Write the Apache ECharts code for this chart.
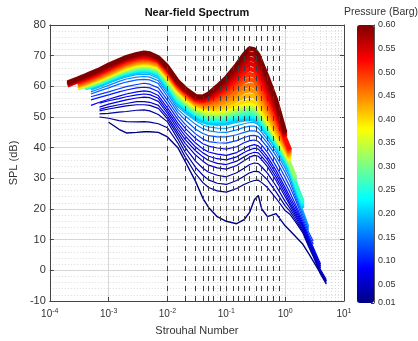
<!DOCTYPE html>
<html>
<head>
<meta charset="utf-8">
<script src="https://cdn.jsdelivr.net/npm/echarts@6/dist/echarts.min.js"></script>
<style>
    html, body { margin: 0; padding: 0; background: #fff; }
    #chart { width: 418px; height: 341px; }
</style>
</head>
<body>
<div id="chart"></div>
<script>
    const _ = null

    // Strouhal number grid shared by all curves
    const stGrid = [2e-4, 3e-4, 4e-4, 5e-4, 7e-4, 1e-3, 1.5e-3, 2e-3, 3e-3, 4e-3, 5e-3, 7e-3,
        0.01, 0.015, 0.02, 0.03, 0.04, 0.05, 0.07, 0.1, 0.15, 0.2, 0.25, 0.3, 0.35, 0.4, 0.5, 0.7,
        1, 1.2, 1.5, 2, 2.5, 3, 4, 5]

    // pressure of each curve (Barg), low first so the red ones end up on top
    const pressures = [0.01, 0.02, 0.03, 0.04, 0.05, 0.06, 0.07, 0.08, 0.10, 0.12, 0.14, 0.16, 0.18,
        0.20, 0.22, 0.24, 0.26, 0.28, 0.30, 0.32, 0.34, 0.36, 0.38, 0.40,
        0.42, 0.44, 0.46, 0.48, 0.50, 0.52, 0.54, 0.56, 0.58, 0.60]

    // SPL (dB) of each curve on stGrid, same order as pressures
    const splCurves = [
        [_, _, _, _, _, 48.3, 46, 44.8, 45, 45.2, 45.2, 45, 43.5, 40, 35.5, 29, 23.5, 20.5, 17.5, 16, 15.2, 16.5, 19, 23, 24.4, 20, 17.5, 18.5, 14.5, 13, 11, 8.5, 5.5, 3, -1, -3.5],
        [_, _, _, _, 50, 49.6, 48.8, 48.5, 48.4, 48.5, 48.3, 47.8, 46.5, 41.5, 37, 31.5, 28.6, 27, 25.9, 25.5, 26.7, 28, 28.8, 29.3, 29.4, 28.6, 27, 23.5, 19.5, 18.3, 15.8, 12.2, 7.8, 4.5, -1.3, -4.5],
        [_, _, _, _, 51, 51.2, 51.6, 51.8, 52.2, 52.3, 52, 50.8, 48.4, 42.8, 38.5, 33.6, 31, 29.5, 28.4, 28, 29.3, 30.7, 31.8, 32.3, 32.2, 31.3, 29.5, 25.6, 21, 19.3, 16.5, 12.7, 8.3, 5, -0.8, -4],
        [_, _, _, _, 52, 52.6, 53.2, 53.6, 54, 54, 53.8, 52.8, 49.4, 44, 40, 35.6, 33.3, 32, 31, 30.5, 31.8, 33.3, 34.5, 35, 34.8, 33.7, 31.7, 27.5, 22.5, 20.3, 17.3, 13.2, 8.8, 5.5, -0.3, -3.5],
        [_, _, _, _, 52.5, 53.3, 54, 54.4, 55, 55, 54.8, 53.8, 50.2, 45, 41.4, 37.6, 35.6, 34.3, 33.4, 33, 34.2, 35.7, 36.9, 37.5, 37.2, 36, 33.8, 29.3, 24, 21.3, 18, 13.8, 9.3, 6, 0.2, -3],
        [_, _, _, _, 53.2, 54.2, 55, 55.6, 56.2, 56.5, 56.3, 55.1, 51.2, 46, 42.6, 39, 37, 35.8, 34.9, 34.5, 35.6, 37, 38, 38.5, 38.3, 37.1, 34.9, 30.4, 25, 22, 18.8, 14.3, 9.8, 6.5, 0.8, _],
        [_, _, _, _, 54.5, 55.3, 56, 56.6, 57.2, 57.5, 57.3, 56.1, 52, 47, 43.8, 40.2, 38.3, 37.2, 36.4, 36, 37, 38.4, 39.3, 39.8, 39.5, 38.3, 36, 31.5, 26, 23, 19.5, 14.8, 10.3, 7, 1.3, _],
        [_, _, _, 53.8, 54.8, 55.8, 56.8, 57.5, 58.2, 58.5, 58.3, 57, 53, 48, 45, 41.5, 39.6, 38.6, 37.9, 37.5, 38.4, 39.7, 40.6, 41, 40.6, 39.4, 37.1, 32.6, 27, 24, 20.5, 15.3, 10.8, 7.5, 2, _],
        [_, _, _, 55.6, 56.4, 57.2, 58.2, 58.8, 59.5, 59.7, 59.5, 58.3, 54.2, 49.2, 46.3, 43, 41.3, 40.5, 39.9, 39.5, 40.3, 41.6, 42.3, 42.5, 42, 40.8, 38.5, 34, 28.5, 25.5, 21.5, 16, 11.5, 8.5, _, _],
        [_, _, _, 56.6, 57.4, 58.2, 59.2, 59.9, 60.6, 61, 60.7, 59.5, 55.4, 50.4, 47.6, 44.5, 42.8, 42, 41.6, 41.5, 42.3, 43.3, 43.9, 44, 43.6, 42.4, 40.1, 35.8, 30.3, 27.3, 23, 17, 12.5, 9.5, _, _],
        [_, _, _, 57.5, 58.5, 59.5, 60.7, 61.4, 62.1, 62.3, 62.1, 60.9, 56.6, 51.5, 49, 46, 44.6, 43.9, 43.5, 43.5, 44.2, 45, 45.5, 45.5, 45, 43.8, 41.5, 37.3, 32, 29, 24, 18, 13.3, _, _, _],
        [_, _, _, 58.2, 59.2, 60.3, 61.6, 62.4, 63, 63.2, 63, 61.8, 57.6, 52.5, 50.3, 47.6, 46.2, 45.5, 45.1, 45, 45.8, 46.6, 47, 47, 46.3, 45, 42.6, 38.5, 33.3, 30.3, 25, 18.8, 14, _, _, _],
        [_, _, _, 58.8, 59.8, 61, 62.3, 63.1, 63.8, 64, 63.8, 62.6, 58.4, 53.3, 51.3, 48.8, 47.4, 46.8, 46.4, 46.3, 47.2, 47.8, 48.2, 48.2, 47.4, 46, 43.6, 39.5, 34.3, 31.3, 26, 19.5, 14.5, _, _, _],
        [_, _, _, 59.3, 60.3, 61.5, 62.9, 63.7, 64.5, 64.8, 64.6, 63.5, 59.3, 54.2, 52.2, 49.6, 48.4, 47.9, 47.6, 47.8, 48.6, 49.0, 49.2, 48.9, 48.1, 46.7, 44.3, 40.3, 35.3, 32.3, 26.8, 20.3, _, _, _, _],
        [_, _, 59.3, 59.8, 60.8, 62, 63.4, 64.2, 65, 65.2, 65, 64, 60, 55, 53, 50.5, 49.3, 48.7, 48.5, 48.8, 49.6, 50, 50.2, 49.8, 49, 47.5, 45, 41, 36, 33, 27.5, 21, _, _, _, _],
        [_, _, 59.4, 60.0, 61.0, 62.2, 63.6, 64.4, 65.2, 65.5, 65.3, 64.3, 60.4, 55.4, 53.4, 50.9, 49.7, 49.1, 48.9, 49.3, 50.1, 50.6, 50.8, 50.4, 49.6, 48.1, 45.5, 41.4, 36.4, 33.4, 28.1, 21.8, _, _, _, _],
        [_, _, 59.6, 60.1, 61.2, 62.4, 63.8, 64.7, 65.5, 65.7, 65.5, 64.6, 60.7, 55.8, 53.8, 51.2, 50.1, 49.6, 49.4, 49.7, 50.6, 51.1, 51.3, 51.0, 50.1, 48.6, 46.0, 41.8, 36.8, 33.8, 28.7, 22.5, _, _, _, _],
        [_, _, 59.7, 60.3, 61.3, 62.6, 64.0, 64.9, 65.7, 66.0, 65.8, 64.9, 61.1, 56.3, 54.2, 51.6, 50.5, 50.0, 49.8, 50.2, 51.1, 51.7, 51.9, 51.5, 50.7, 49.2, 46.5, 42.2, 37.2, 34.2, 29.3, _, _, _, _, _],
        [_, 59.3, 59.9, 60.5, 61.5, 62.8, 64.2, 65.1, 66.0, 66.2, 66.1, 65.2, 61.4, 56.7, 54.6, 52.0, 50.9, 50.4, 50.2, 50.7, 51.6, 52.2, 52.5, 52.1, 51.2, 49.7, 47.0, 42.6, 37.6, 34.6, 30.0, _, _, _, _, _],
        [_, 59.4, 60.0, 60.6, 61.7, 62.9, 64.4, 65.3, 66.2, 66.5, 66.3, 65.4, 61.8, 57.1, 54.9, 52.3, 51.4, 50.9, 50.7, 51.1, 52.2, 52.8, 53.0, 52.7, 51.8, 50.3, 47.5, 42.9, 37.9, 34.9, 30.5, _, _, _, _, _],
        [_, 59.5, 60.2, 60.8, 61.9, 63.1, 64.6, 65.5, 66.5, 66.7, 66.6, 65.7, 62.1, 57.5, 55.3, 52.7, 51.8, 51.3, 51.1, 51.6, 52.7, 53.3, 53.6, 53.3, 52.3, 50.8, 48.0, 43.3, 38.3, 35.3, _, _, _, _, _, _],
        [_, 59.6, 60.3, 61.0, 62.0, 63.3, 64.8, 65.8, 66.7, 67.0, 66.9, 66.0, 62.5, 58.0, 55.7, 53.1, 52.2, 51.7, 51.5, 52.1, 53.2, 53.9, 54.2, 53.8, 52.9, 51.4, 48.5, 43.7, 38.7, 35.7, _, _, _, _, _, _],
        [_, 59.7, 60.5, 61.1, 62.2, 63.5, 65.0, 66.0, 67.0, 67.2, 67.1, 66.3, 62.8, 58.4, 56.1, 53.4, 52.6, 52.2, 52.0, 52.5, 53.7, 54.4, 54.7, 54.4, 53.4, 51.9, 49.0, 44.1, 39.1, 36.1, _, _, _, _, _, _],
        [_, 59.8, 60.6, 61.3, 62.4, 63.7, 65.2, 66.2, 67.2, 67.5, 67.4, 66.6, 63.2, 58.8, 56.5, 53.8, 53, 52.6, 52.4, 53, 54.2, 55, 55.3, 55, 54, 52.5, 49.5, 44.5, 39.5, 36.5, _, _, _, _, _, _],
        [_, 60.1, 60.9, 61.6, 62.7, 64.0, 65.6, 66.6, 67.6, 67.9, 67.7, 66.9, 63.6, 59.1, 56.8, 54.1, 53.4, 53.2, 53.2, 54.1, 55.6, 56.6, 57.0, 56.7, 55.6, 54.0, 50.8, 45.6, 40.1, 37.0, _, _, _, _, _, _],
        [_, 60.4, 61.2, 61.9, 63.0, 64.4, 65.9, 66.9, 67.9, 68.2, 68.1, 67.2, 63.9, 59.4, 57.1, 54.5, 53.8, 53.7, 54.1, 55.2, 57.0, 58.3, 58.8, 58.4, 57.2, 55.5, 52.1, 46.7, 40.7, 37.5, _, _, _, _, _, _],
        [_, 60.6, 61.4, 62.2, 63.4, 64.7, 66.3, 67.3, 68.3, 68.6, 68.4, 67.6, 64.3, 59.7, 57.4, 54.8, 54.2, 54.3, 54.9, 56.2, 58.4, 59.9, 60.5, 60.1, 58.8, 57.0, 53.4, 47.8, 41.3, 38.0, _, _, _, _, _, _],
        [_, 60.9, 61.7, 62.5, 63.7, 65.1, 66.6, 67.6, 68.6, 68.9, 68.8, 67.9, 64.6, 60.0, 57.7, 55.2, 54.6, 54.8, 55.8, 57.3, 59.8, 61.6, 62.3, 61.8, 60.4, 58.5, 54.7, 48.9, 41.9, 38.5, _, _, _, _, _, _],
        [_, 61.2, 62, 62.8, 64, 65.4, 67, 68, 69, 69.3, 69.1, 68.2, 65, 60.3, 58, 55.5, 55, 55.4, 56.6, 58.4, 61.2, 63.2, 64, 63.5, 62, 60, 56, 50, 42.5, 39, _, _, _, _, _, _],
        [_, 61.5, 62.3, 63.1, 64.3, 65.7, 67.3, 68.3, 69.3, 69.6, 69.4, 68.4, 65.3, 60.6, 58.3, 55.8, 55.3, 55.8, 57.3, 59.3, 62.4, 64.6, 65.7, 65.2, 63.7, 61.5, 57.4, 51.1, 43.0, 39.3, _, _, _, _, _, _],
        [60.3, 61.7, 62.6, 63.4, 64.6, 66.0, 67.6, 68.6, 69.6, 70.0, 69.7, 68.7, 65.6, 60.8, 58.5, 56.0, 55.6, 56.3, 58.0, 60.2, 63.5, 66.1, 67.4, 66.9, 65.3, 63.0, 58.8, 52.2, 43.5, _, _, _, _, _, _, _],
        [60.6, 62.0, 62.9, 63.7, 64.9, 66.4, 67.9, 68.9, 69.9, 70.3, 70.1, 68.9, 65.8, 61.1, 58.8, 56.3, 56.0, 56.7, 58.6, 61.0, 64.7, 67.5, 69.0, 68.6, 67.0, 64.6, 60.2, 53.3, 44.0, _, _, _, _, _, _, _],
        [60.9, 62.2, 63.2, 64.0, 65.2, 66.7, 68.2, 69.2, 70.2, 70.7, 70.4, 69.2, 66.1, 61.3, 59.0, 56.5, 56.3, 57.2, 59.3, 61.9, 65.8, 69.0, 70.7, 70.3, 68.6, 66.1, 61.6, 54.4, 44.5, _, _, _, _, _, _, _],
        [61.2, 62.5, 63.5, 64.3, 65.5, 67, 68.5, 69.5, 70.5, 71, 70.7, 69.4, 66.4, 61.6, 59.3, 56.8, 56.6, 57.6, 60, 62.8, 67, 70.4, 72.4, 72, 70.3, 67.6, 63, 55.5, 45, _, _, _, _, _, _, _]
    ]

    // dashed band markers
    const bandSt = [0.00794, 0.01, 0.0126, 0.0158, 0.02, 0.0251, 0.0316, 0.0398, 0.0501, 0.0631, 0.0794,
        0.1, 0.126, 0.158, 0.2, 0.251, 0.316, 0.398, 0.501, 0.631, 0.794]

    const decades = [1e-4, 1e-3, 1e-2, 1e-1, 1, 10]
    const barTicks = [0.01, 0.05, 0.10, 0.15, 0.20, 0.25, 0.30, 0.35, 0.40, 0.45, 0.50, 0.55, 0.60]
    const pMin = 0.01, pMax = 0.60

    // jet colormap
    const jetColors = ['#000083', '#0000ff', '#0080ff', '#00ffff', '#80ff80', '#ffff00', '#ff8000', '#ff0000', '#800000']

    function jet(p) {
        return echarts.color.lerp((p - pMin) / (pMax - pMin), jetColors)
    }

    // minor log grid lines 2..9 per decade
    let minorSt = []
    decades.slice(0, -1).forEach(d => {
        for (let k = 2; k <= 9; k++) minorSt.push(d * k)
    })

    const font = 'Liberation Sans, Arial, sans-serif'
    const txt = '#333'
    const axisCol = '#444'

    let curveSeries = pressures.map((p, i) => ({
        type: 'line',
        name: 'p' + p,
        data: stGrid.map((s, j) => [s, splCurves[i][j]]).filter(d => d[1] !== null),
        showSymbol: false,
        symbol: 'none',
        silent: true,
        animation: false,
        z: 2,
        lineStyle: {
            width: p >= 0.42 ? 4.5 : (p >= 0.2 ? 3.5 : (p === 0.01 ? 1.4 : 1.2)),
            color: jet(p)
        }
    }))

    let option = {
        animation: false,
        textStyle: {fontFamily: font},
        title: {
            text: 'Pressure (Barg)',
            left: 344,
            top: 7,
            padding: 0,
            textStyle: {fontSize: 10.5, fontWeight: 'normal', color: txt, fontFamily: font}
        },
        grid: [
            {left: 47, right: 74, top: 25, bottom: 38},
            {left: 357, width: 17, top: 25, height: 278}
        ],
        visualMap: {
            type: 'continuous',
            min: pMin,
            max: pMax,
            seriesIndex: [],
            calculable: false,
            left: 357,
            top: 25,
            padding: 0,
            itemWidth: 17,
            itemHeight: 278,
            text: null,
            inRange: {color: jetColors}
        },
        xAxis: [
            {
                type: 'log', logBase: 10, min: 1e-4, max: 10, gridIndex: 0,
                axisLine: {onZero: false, lineStyle: {color: axisCol}},
                axisTick: {inside: true, length: 4, lineStyle: {color: axisCol}},
                splitLine: {show: true, lineStyle: {color: '#d6d6d6'}},
                axisLabel: {
                    margin: 7,
                    formatter: v => '{b|10}{s|' + Math.round(Math.log10(v)) + '}',
                    rich: {
                        b: {fontSize: 10, color: txt, fontFamily: font},
                        s: {fontSize: 7, color: txt, fontFamily: font, verticalAlign: 'top', padding: [0, 0, 6, 0]}
                    }
                },
                name: 'Strouhal Number',
                nameLocation: 'middle',
                nameGap: 24,
                nameTextStyle: {fontSize: 11, color: txt, fontFamily: font}
            },
            {
                type: 'log', logBase: 10, min: 1e-4, max: 10, gridIndex: 0, position: 'top',
                axisLine: {onZero: false, lineStyle: {color: axisCol}},
                axisTick: {inside: true, length: 4, lineStyle: {color: axisCol}},
                axisLabel: {show: false},
                splitLine: {show: false},
                name: 'Near-field Spectrum',
                nameLocation: 'middle',
                nameGap: 7,
                nameTextStyle: {fontSize: 11, fontWeight: 'bold', color: '#111', fontFamily: font}
            },
            {type: 'value', gridIndex: 1, show: false, min: 0, max: 1}
        ],
        yAxis: [
            {
                type: 'value', min: -10, max: 80, interval: 10, gridIndex: 0,
                axisLine: {show: true, onZero: false, lineStyle: {color: axisCol}},
                axisTick: {show: true, inside: true, length: 4, lineStyle: {color: axisCol}},
                axisLabel: {fontSize: 11, color: txt, margin: 4},
                splitLine: {show: true, lineStyle: {color: '#d6d6d6'}},
                minorTick: {show: false, splitNumber: 5},
                minorSplitLine: {show: true, lineStyle: {color: '#dcdcdc', type: [1, 2]}},
                name: 'SPL (dB)',
                nameLocation: 'middle',
                nameGap: 22,
                nameRotate: 90,
                nameTextStyle: {fontSize: 11, color: txt, fontFamily: font}
            },
            {
                type: 'value', min: -10, max: 80, interval: 10, gridIndex: 0, position: 'right',
                axisLine: {show: true, onZero: false, lineStyle: {color: axisCol}},
                axisTick: {show: true, inside: true, length: 4, lineStyle: {color: axisCol}},
                axisLabel: {show: false},
                splitLine: {show: false}
            },
            {
                type: 'value', min: pMin, max: pMax, gridIndex: 1, position: 'right',
                axisLine: {show: true, onZero: false, lineStyle: {color: '#555'}},
                axisTick: {show: true, inside: true, length: 3, customValues: barTicks, lineStyle: {color: '#333'}},
                axisLabel: {
                    customValues: barTicks, fontSize: 9, color: txt, margin: 4,
                    formatter: v => v.toFixed(2)
                },
                splitLine: {show: false}
            }
        ],
        series: [
            {
                type: 'line',
                data: [],
                silent: true,
                markLine: {
                    silent: true, symbol: 'none', z: 1, animation: false,
                    label: {show: false},
                    lineStyle: {color: '#dcdcdc', type: [1, 2], width: 1},
                    data: minorSt.map(v => ({xAxis: v}))
                }
            },
            ...curveSeries,
            {
                type: 'line',
                data: [],
                silent: true,
                markLine: {
                    silent: true, symbol: 'none', z: 6, animation: false,
                    label: {show: false},
                    lineStyle: {color: '#3a3a3a', type: [5, 5], width: 1},
                    data: bandSt.map(v => ({xAxis: v}))
                }
            }
        ]
    }

    let chart = echarts.init(document.getElementById('chart'))
    chart.setOption(option)
</script>
</body>
</html>
